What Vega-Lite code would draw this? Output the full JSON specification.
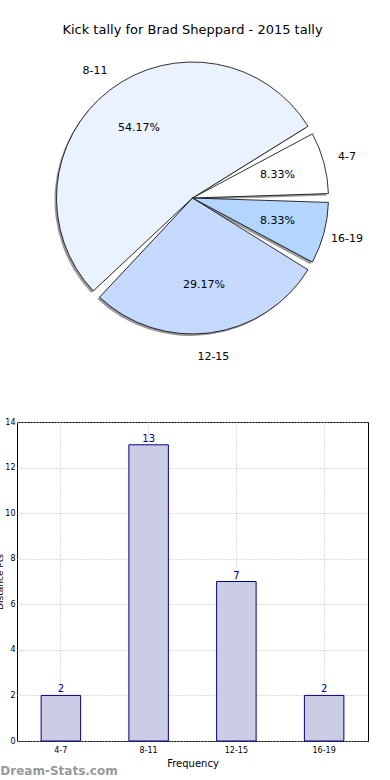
{
  "$schema": "https://vega.github.io/schema/vega-lite/v6.json",
  "padding": {"left": -5, "top": 24, "right": 0, "bottom": 0},
  "background": "white",
  "config": {"font": "DejaVu Sans", "view": {"stroke": null}},
  "datasets": {
    "kicks": [
      {"range": "4-7", "i": 1, "count": 2, "pct": "8.33%"},
      {"range": "8-11", "i": 2, "count": 13, "pct": "54.17%"},
      {"range": "12-15", "i": 3, "count": 7, "pct": "29.17%"},
      {"range": "16-19", "i": 4, "count": 2, "pct": "8.33%"}
    ]
  },
  "title": {"text": "Dream-Stats.com", "orient": "bottom", "anchor": "start", "color": "#999999", "fontSize": 12, "fontWeight": "bold", "offset": -3, "dx": 5, "frame": "bounds"},
  "spacing": 55,
  "vconcat": [
    {
      "width": 351,
      "height": 302,
      "title": {"text": "Kick tally for Brad Sheppard - 2015 tally", "fontSize": 13, "fontWeight": "normal", "offset": 10, "color": "black"},
      "data": {"name": "kicks"},
      "encoding": {
        "theta": {"field": "count", "type": "quantitative", "stack": true, "scale": {"range": [7.854, 1.5708]}},
        "order": {"field": "i", "type": "quantitative"}
      },
      "layer": [
        {
          "mark": {"type": "arc", "outerRadius": 136, "padAngle": 0.065, "color": "#999999", "xOffset": -2, "yOffset": 2}
        },
        {
          "mark": {"type": "arc", "outerRadius": 136, "padAngle": 0.065, "stroke": "black", "strokeWidth": 0.8},
          "encoding": {
            "color": {"field": "range", "type": "nominal", "legend": null,
              "scale": {"domain": ["4-7", "8-11", "12-15", "16-19"], "range": ["#ffffff", "#ebf2ff", "#c6d9ff", "#b3d5ff"]}}
          }
        },
        {
          "mark": {"type": "text", "radius": 160, "fontSize": 11, "color": "black"},
          "encoding": {"text": {"field": "range"}}
        },
        {
          "mark": {"type": "text", "radius": 88, "fontSize": 11, "color": "black"},
          "encoding": {"text": {"field": "pct"}}
        }
      ]
    },
    {
      "width": 351,
      "height": 319,
      "view": {"stroke": "black", "strokeWidth": 1},
      "data": {"name": "kicks"},
      "encoding": {
        "x": {"field": "range", "type": "ordinal", "sort": ["4-7", "8-11", "12-15", "16-19"],
          "scale": {"paddingInner": 0.55, "paddingOuter": 0.275},
          "axis": {"title": "Frequency", "titleFontSize": 10, "titleFontWeight": "normal", "titlePadding": 4, "labelAngle": 0, "labelFontSize": 8, "labelColor": "black", "bandPosition": 0.5, "grid": true, "gridDash": [1, 2], "gridColor": "#bbbbbb", "gridWidth": 1, "tickSize": 0, "labelPadding": 5, "domain": false}},
        "y": {"field": "count", "type": "quantitative", "scale": {"domain": [0, 14]},
          "axis": {"title": "Distance Pts", "values": [0, 2, 4, 6, 8, 10, 12, 14], "titleFontSize": 9, "titleFontWeight": "normal", "titlePadding": 0, "labelFontSize": 8, "labelColor": "black", "gridDash": [1, 2], "gridColor": "#bbbbbb", "tickSize": 0, "labelPadding": 2, "domain": false}}
      },
      "layer": [
        {"mark": {"type": "bar", "fill": "#ccccE5", "stroke": "#00008b", "strokeWidth": 1}},
        {"mark": {"type": "text", "dy": -6, "fontSize": 10, "color": "#00008b"}, "encoding": {"text": {"field": "count"}}}
      ]
    }
  ]
}
